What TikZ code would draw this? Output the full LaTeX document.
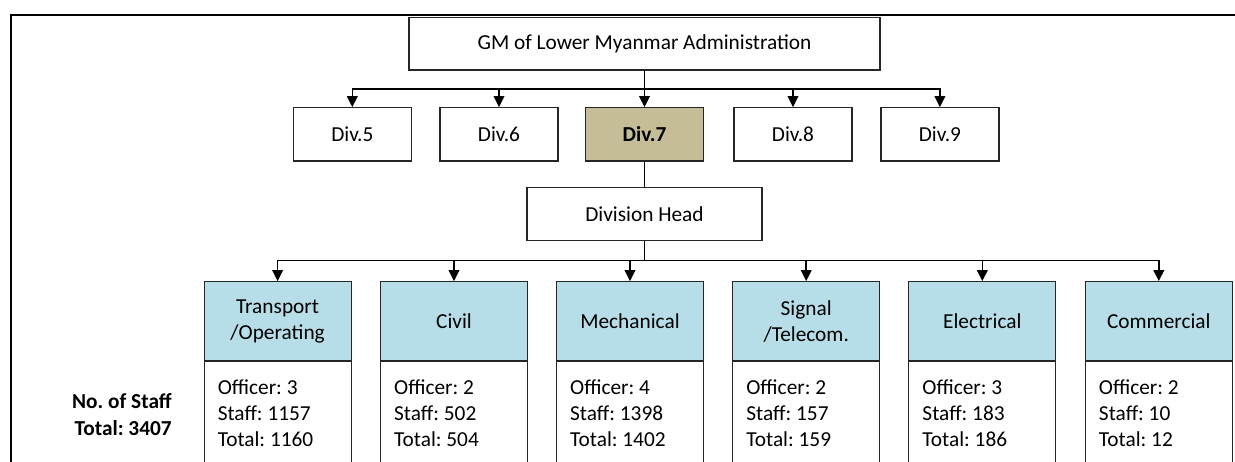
\documentclass[tikz,border=0pt]{standalone}
\usepackage{fontspec}
\setmainfont{Carlito}
\usetikzlibrary{arrows.meta,calc}
\definecolor{divtan}{HTML}{C4BD97}
\definecolor{deptblue}{HTML}{B7DEE8}
\definecolor{boxline}{HTML}{262626}
\frenchspacing

\begin{document}
\begin{tikzpicture}[x=0.75pt,y=-0.75pt,
  font=\fontsize{16}{19.3}\selectfont,
  box/.style={draw=boxline,line width=0.9pt,rectangle,inner sep=0pt,align=center,fill=white},
  divbox/.style={box,minimum width=88.5pt,minimum height=40pt},
  headbox/.style={box,fill=deptblue,minimum width=110.25pt,minimum height=59.25pt},
  bodybox/.style={box,minimum width=110.25pt,minimum height=89.5pt,anchor=north},
  staffnum/.style={inner sep=0pt,align=left,anchor=west},
  conn/.style={draw=black,line width=1.1pt},
  arr/.style={conn,-{Triangle[length=8.25pt,width=8pt]}},
]
\useasboundingbox (0,0) rectangle (1235,461);
\fill[white] (0,0) rectangle (1235,461);
\clip (0,0) rectangle (1235,461);

% outer frame (top and left edges)
\draw[line width=1.5pt] (10.7,480) -- (10.7,14.7) -- (1245,14.7);

% top level
\node[box,minimum width=353.25pt,minimum height=39.5pt] (gm) at (644.5,43.7)
  {GM of Lower Myanmar Administration};

% divisions
\node[divbox] (d5) at (352.3,134.4) {Div.5};
\node[divbox] (d6) at (499,134.4) {Div.6};
\node[divbox,fill=divtan,font=\fontsize{16}{19.3}\selectfont\bfseries] (d7) at (644.5,134.4) {Div.7};
\node[divbox] (d8) at (793,134.4) {Div.8};
\node[divbox] (d9) at (939.9,134.4) {Div.9};

\node[box,minimum width=176.25pt,minimum height=39.9pt] (dh) at (644.5,213.9) {Division Head};

\coordinate (busA) at (0,89);
\coordinate (busB) at (0,260.7);

\foreach \d in {d5,d6,d7,d8,d9}
  \draw[arr] (gm.south) |- (\d.north |- busA) -- (\d.north);

\draw[conn] (d7.south) -- (dh.north);

% departments
\node[bodybox] (b1) at (277.6,360.7) {};
\node[bodybox] (b2) at (454,360.7) {};
\node[bodybox] (b3) at (630,360.7) {};
\node[bodybox] (b4) at (806.2,360.7) {};
\node[bodybox] (b5) at (982.3,360.7) {};
\node[bodybox] (b6) at (1158.8,360.7) {};

\node[headbox] (h1) at (277.6,321.2) {Transport\\/Operating};
\node[headbox] (h2) at (454,321.2) {Civil};
\node[headbox] (h3) at (630,321.2) {Mechanical};
\node[headbox] (h4) at (806.2,321.2) {Signal\\/Telecom.};
\node[headbox] (h5) at (982.3,321.2) {Electrical};
\node[headbox] (h6) at (1158.8,321.2) {Commercial};

\foreach \h in {h1,h2,h3,h4,h5,h6}
  \draw[arr] (dh.south) |- (\h.north |- busB) -- (\h.north);

\node[staffnum] (t1) at ($(b1.north west)+(14,52.3)$) {Officer: 3\\Staff: 1157\\Total: 1160};
\node[staffnum] (t2) at ($(b2.north west)+(14,52.3)$) {Officer: 2\\Staff: 502\\Total: 504};
\node[staffnum] (t3) at ($(b3.north west)+(14,52.3)$) {Officer: 4\\Staff: 1398\\Total: 1402};
\node[staffnum] (t4) at ($(b4.north west)+(14,52.3)$) {Officer: 2\\Staff: 157\\Total: 159};
\node[staffnum] (t5) at ($(b5.north west)+(14,52.3)$) {Officer: 3\\Staff: 183\\Total: 186};
\node[staffnum] (t6) at ($(b6.north west)+(14,52.3)$) {Officer: 2\\Staff: 10\\Total: 12};

\node[inner sep=0pt,align=right,anchor=east,font=\fontsize{16}{20.25}\selectfont\bfseries]
  (nos) at (172,414.5) {No. of Staff\\Total: 3407};
\end{tikzpicture}
\end{document}
